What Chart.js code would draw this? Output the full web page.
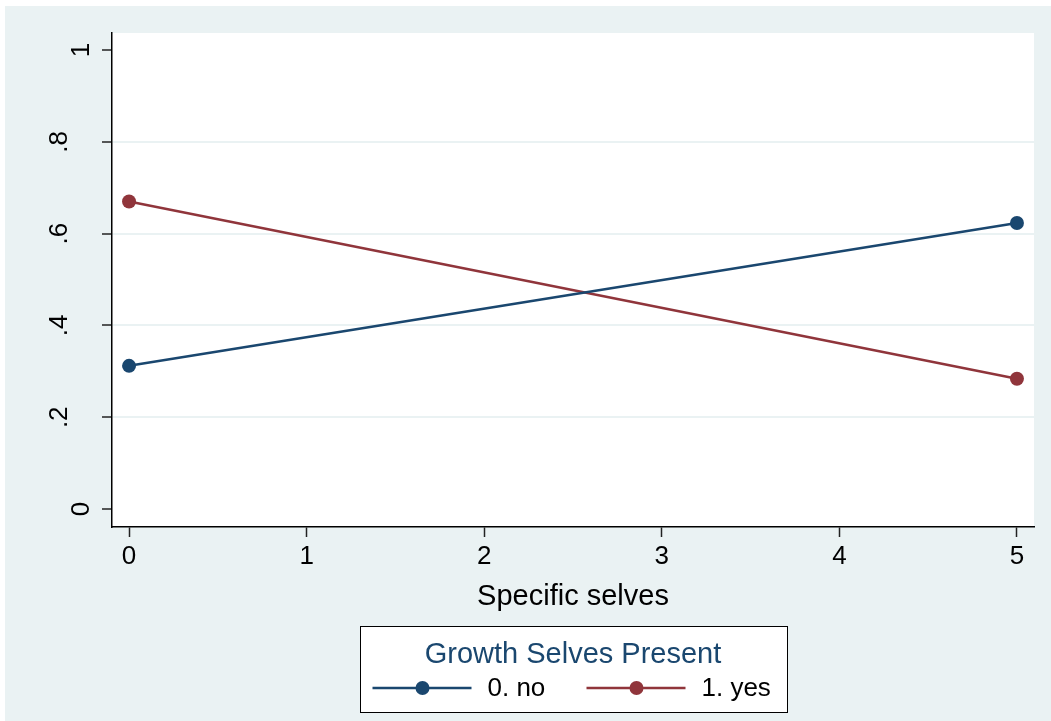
<!DOCTYPE html>
<html>
<head>
<meta charset="utf-8">
<script src="https://cdn.jsdelivr.net/npm/chart.js@4/dist/chart.umd.min.js"></script>
<style>
  html, body { margin: 0; padding: 0; background: #ffffff; }
  #wrap { width: 1051px; height: 721px; }
</style>
</head>
<body>
<div id="wrap"><canvas id="chart" width="1051" height="721"></canvas></div>
<script>
// values
const xValues = [0, 5];
const noValues = [0.312, 0.623];
const yesValues = [0.670, 0.284];
const seriesLabels = ['0. no', '1. yes'];
const xTicks = [0, 1, 2, 3, 4, 5];
const yTicks = [0, 0.2, 0.4, 0.6, 0.8, 1];
const legendTitle = 'Growth Selves Present';
const xTitle = 'Specific selves';

const FONT = "'Liberation Sans', Arial, Helvetica, sans-serif";
const BG = '#eaf2f3';
const NAVY = '#1a476f';
const MAROON = '#90353b';

// stata style background: grey outer, white plot region
const backgroundPlugin = {
    id: 'stataBg',
    beforeDraw(chart) {
        const { ctx, chartArea } = chart;
        ctx.save();
        ctx.fillStyle = BG;
        ctx.fillRect(5, 6, chart.width - 5, chart.height - 6);
        ctx.fillStyle = '#ffffff';
        ctx.fillRect(chartArea.left, chartArea.top, chartArea.right - chartArea.left, chartArea.bottom - chartArea.top);
        ctx.restore();
    }
};

// boxed legend with a title, below the axis title
const legendPlugin = {
    id: 'stataLegend',
    afterDraw(chart) {
        const { ctx, chartArea } = chart;
        const cx = (chartArea.left + chartArea.right) / 2;
        const boxW = 427, boxH = 86;
        const boxX = Math.round(cx - boxW / 2) + 0.5;
        const boxY = 626.5;
        ctx.save();
        ctx.fillStyle = '#ffffff';
        ctx.fillRect(boxX, boxY, boxW, boxH);
        ctx.strokeStyle = '#000000';
        ctx.lineWidth = 1;
        ctx.strokeRect(boxX, boxY, boxW, boxH);

        ctx.fillStyle = NAVY;
        ctx.font = '29px ' + FONT;
        ctx.textAlign = 'center';
        ctx.textBaseline = 'alphabetic';
        ctx.fillText(legendTitle, cx, 663);

        const rowY = 688;
        const starts = [boxX + 12, boxX + 226];
        chart.data.datasets.forEach((ds, i) => {
            const x0 = starts[i];
            ctx.strokeStyle = ds.borderColor;
            ctx.lineWidth = 2.5;
            ctx.beginPath();
            ctx.moveTo(x0, rowY);
            ctx.lineTo(x0 + 99, rowY);
            ctx.stroke();
            ctx.fillStyle = ds.pointBackgroundColor;
            ctx.beginPath();
            ctx.arc(x0 + 50, rowY, 7, 0, Math.PI * 2);
            ctx.fill();
            ctx.fillStyle = '#000000';
            ctx.font = '26px ' + FONT;
            ctx.textAlign = 'left';
            ctx.textBaseline = 'middle';
            ctx.fillText(ds.label, x0 + 115, rowY + 1);
        });
        ctx.restore();
    }
};

// 0 and 1 sit a bit nearer the axis in the original, push them over with an empty first line
function fmtY(v) {
    if (v === 0) return ['', '0'];
    if (v === 1) return ['', '1'];
    return String(Math.round(v * 10) / 10).replace(/^0/, '');
}

const ctx = document.getElementById('chart').getContext('2d');
new Chart(ctx, {
    type: 'line',
    data: {
        datasets: [
            {
                label: seriesLabels[0],
                data: xValues.map((x, i) => ({ x: x, y: noValues[i] })),
                borderColor: NAVY,
                backgroundColor: NAVY,
                pointBackgroundColor: NAVY,
                pointBorderWidth: 0,
                pointRadius: 7,
                borderWidth: 2.5,
                tension: 0,
                fill: false
            },
            {
                label: seriesLabels[1],
                data: xValues.map((x, i) => ({ x: x, y: yesValues[i] })),
                borderColor: MAROON,
                backgroundColor: MAROON,
                pointBackgroundColor: MAROON,
                pointBorderWidth: 0,
                pointRadius: 7,
                borderWidth: 2.5,
                tension: 0,
                fill: false
            }
        ]
    },
    options: {
        responsive: false,
        animation: false,
        devicePixelRatio: 1,
        layout: { padding: { left: 0, top: 33, right: 17, bottom: 103 } },
        plugins: {
            legend: { display: false },
            tooltip: { enabled: false }
        },
        scales: {
            x: {
                type: 'linear',
                min: -0.096,
                max: 5.096,
                afterBuildTicks: scale => { scale.ticks = xTicks.map(v => ({ value: v })); },
                afterFit: scale => { scale.height = 91; },
                grid: { drawOnChartArea: false, tickLength: 10, tickColor: '#222222', tickWidth: 1.5 },
                border: { color: '#000000', width: 1.5 },
                ticks: {
                    color: '#000000',
                    font: { family: FONT, size: 26 },
                    padding: 4,
                    maxRotation: 0,
                    autoSkip: false,
                    callback: v => String(v)
                },
                title: {
                    display: true,
                    text: xTitle,
                    color: '#000000',
                    font: { family: FONT, size: 29 },
                    padding: { top: 0, bottom: 4 }
                }
            },
            y: {
                type: 'linear',
                min: -0.039,
                max: 1.037,
                afterBuildTicks: scale => { scale.ticks = yTicks.map(v => ({ value: v })); },
                afterFit: scale => {
                    scale.width = 112;
                    scale.paddingTop = 0;
                    scale.paddingBottom = 0;
                },
                grid: {
                    color: c => (c.tick && (c.tick.value === 0 || c.tick.value === 1)) ? 'rgba(0,0,0,0)' : BG,
                    lineWidth: 2,
                    tickLength: 10,
                    tickColor: '#222222',
                    tickWidth: 1.5
                },
                border: { color: '#000000', width: 1.5 },
                ticks: {
                    color: '#000000',
                    font: c => ({
                        family: FONT,
                        size: 26,
                        lineHeight: (c.tick && (c.tick.value === 0 || c.tick.value === 1)) ? 1.65 : 1.2
                    }),
                    padding: 31,
                    crossAlign: 'center',
                    minRotation: 90,
                    maxRotation: 90,
                    autoSkip: false,
                    callback: v => fmtY(v)
                }
            }
        }
    },
    plugins: [backgroundPlugin, legendPlugin]
});
</script>
</body>
</html>
